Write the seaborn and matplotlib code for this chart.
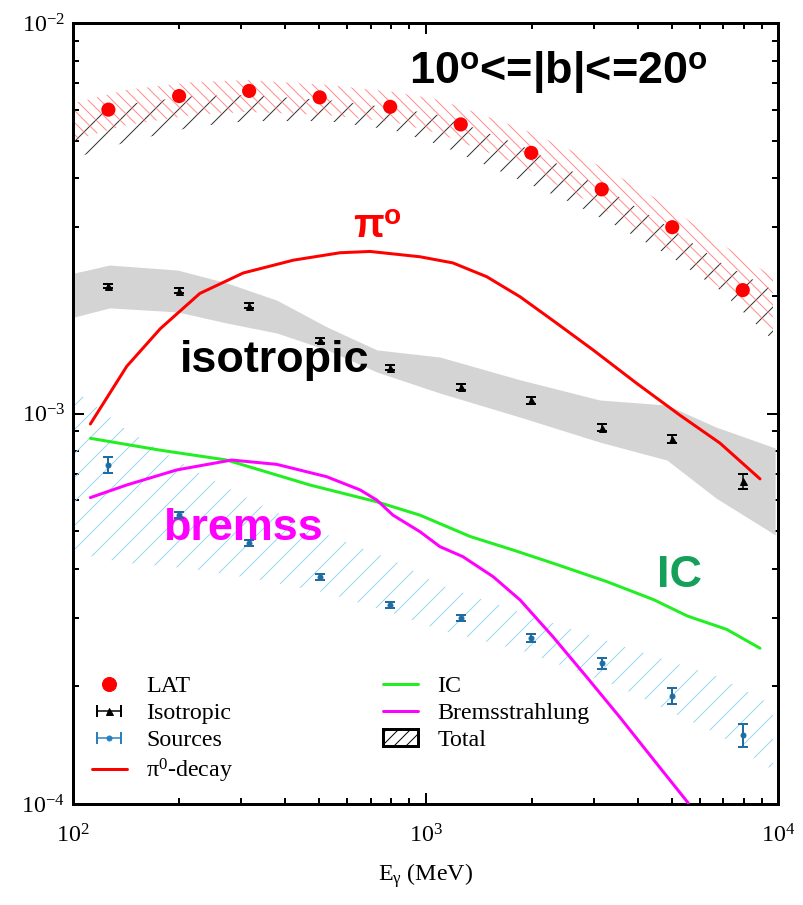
import numpy as np
import matplotlib
matplotlib.use("Agg")
import matplotlib.pyplot as plt
from matplotlib.lines import Line2D
from matplotlib.patches import Patch
import matplotlib.ticker as mticker
import seaborn as sns

# --- energies of the measured points (MeV)
energy_pts = [126, 200, 316, 501, 794, 1259, 1995, 3162, 5012, 7943]

# LAT data
lat_flux = [6.0e-3, 6.5e-3, 6.7e-3, 6.45e-3, 6.1e-3, 5.5e-3, 4.65e-3, 3.75e-3, 3.0e-3, 2.07e-3]

# isotropic component
iso_flux = [2.12e-3, 2.06e-3, 1.89e-3, 1.54e-3, 1.31e-3, 1.17e-3, 1.08e-3, 9.2e-4, 8.6e-4, 6.7e-4]
iso_err = [3e-5, 3e-5, 3e-5, 2.5e-5, 2e-5, 2e-5, 2e-5, 2e-5, 2e-5, 3e-5]

# sources
src_flux = [7.4e-4, 5.5e-4, 4.65e-4, 3.82e-4, 3.23e-4, 3.0e-4, 2.66e-4, 2.29e-4, 1.89e-4, 1.5e-4]
src_err = [3.5e-5, 1.0e-5, 8e-6, 7e-6, 6e-6, 5e-6, 6.5e-6, 7e-6, 9e-6, 1.0e-5]

# model curves
pi0_E = [112, 142, 177, 229, 304, 422, 572, 696, 964, 1196, 1492, 1855, 2300, 2987, 3971, 5270, 6842, 8892]
pi0_F = [9.4e-4, 1.32e-3, 1.65e-3, 2.03e-3, 2.29e-3, 2.47e-3, 2.58e-3, 2.60e-3, 2.52e-3, 2.43e-3,
         2.24e-3, 1.99e-3, 1.73e-3, 1.455e-3, 1.195e-3, 9.9e-4, 8.4e-4, 6.8e-4]

ic_E = [112, 176, 273, 470, 728, 965, 1341, 1773, 2311, 3272, 4443, 5532, 7154, 8892]
ic_F = [8.64e-4, 8.06e-4, 7.60e-4, 6.56e-4, 5.94e-4, 5.49e-4, 4.84e-4, 4.47e-4, 4.13e-4,
        3.71e-4, 3.335e-4, 3.03e-4, 2.80e-4, 2.505e-4]

brem_E = [112, 142, 197, 282, 378, 524, 653, 728, 809, 965, 1099, 1276, 1556, 1855, 2300, 2859, 3555, 4432, 5567]
brem_F = [6.09e-4, 6.56e-4, 7.17e-4, 7.60e-4, 7.41e-4, 6.89e-4, 6.37e-4, 6.00e-4, 5.49e-4, 4.98e-4,
          4.56e-4, 4.30e-4, 3.82e-4, 3.33e-4, 2.68e-4, 2.12e-4, 1.67e-4, 1.30e-4, 1.005e-4]

# bands
lat_band_E = [101, 142, 219, 312, 526, 809, 1099, 1854, 2570, 3563, 4938, 6846, 9679]
lat_band_hi = [6.24e-3, 6.74e-3, 7.06e-3, 7.14e-3, 6.94e-3, 6.66e-3, 6.35e-3, 5.38e-3, 4.73e-3, 4.03e-3, 3.38e-3, 2.73e-3, 2.24e-3]
lat_band_lo = [5.02e-3, 5.48e-3, 5.81e-3, 5.92e-3, 5.81e-3, 5.58e-3, 5.20e-3, 4.33e-3, 3.69e-3, 3.17e-3, 2.62e-3, 2.10e-3, 1.64e-3]
total_hi = [5.71e-3, 6.20e-3, 6.50e-3, 6.54e-3, 6.35e-3, 6.06e-3, 5.81e-3, 4.87e-3, 4.20e-3, 3.58e-3, 2.99e-3, 2.44e-3, 2.07e-3]
total_lo = [4.51e-3, 4.96e-3, 5.42e-3, 5.61e-3, 5.61e-3, 5.32e-3, 4.87e-3, 3.96e-3, 3.48e-3, 2.99e-3, 2.53e-3, 2.07e-3, 1.54e-3]

iso_band_E = [101, 127, 198, 273, 379, 526, 728, 1099, 1854, 3120, 4838, 6678, 9817]
iso_band_hi = [2.29e-3, 2.40e-3, 2.33e-3, 2.16e-3, 1.95e-3, 1.665e-3, 1.455e-3, 1.395e-3, 1.22e-3, 1.083e-3, 1.051e-3, 9.23e-4, 8.16e-4]
iso_band_lo = [1.767e-3, 1.864e-3, 1.82e-3, 1.705e-3, 1.607e-3, 1.455e-3, 1.277e-3, 1.128e-3, 9.79e-4, 8.45e-4, 7.60e-4, 6.07e-4, 4.89e-4]

src_band_E = [101, 142, 219, 339, 526, 809, 1099, 1854, 3563, 6846, 9679]
src_band_hi = [1.148e-3, 9.07e-4, 7.17e-4, 5.83e-4, 4.89e-4, 4.21e-4, 3.64e-4, 3.10e-4, 2.55e-4, 2.11e-4, 1.79e-4]
src_band_lo = [4.39e-4, 4.14e-4, 4.00e-4, 3.75e-4, 3.47e-4, 3.08e-4, 2.79e-4, 2.48e-4, 1.99e-4, 1.50e-4, 1.22e-4]

# style
sns.set_theme(style="ticks")
plt.rcParams.update({
    "font.family": ["Liberation Serif", "DejaVu Serif"],
    "mathtext.fontset": "custom",
    "mathtext.rm": "Liberation Serif",
    "mathtext.it": "Liberation Serif:italic",
    "mathtext.bf": "Liberation Sans:bold",
    "mathtext.sf": "Liberation Sans",
    "axes.unicode_minus": False,
    "hatch.linewidth": 1.0,
    "axes.linewidth": 3,
    "axes.edgecolor": "black",
    "xtick.color": "black",
    "ytick.color": "black",
    "text.color": "black",
    "axes.labelcolor": "black",
})

fig = plt.figure(figsize=(803 / 72, 905 / 72), dpi=72)
ax = fig.add_axes([73 / 803, 1 - 804 / 905, 705 / 803, 781 / 905])
ax.set_xscale("log")
ax.set_yscale("log")

# bands
ax.fill_between(iso_band_E, iso_band_lo, iso_band_hi, color="#d4d4d4", lw=0, zorder=1)
ax.fill_between(src_band_E, src_band_lo, src_band_hi, facecolor="none", edgecolor="#9dd5f2",
                hatch="/", lw=0, zorder=1)
ax.fill_between(lat_band_E, total_lo, total_hi, facecolor="none", edgecolor="#333333",
                hatch="/", lw=0, zorder=1)
ax.fill_between(lat_band_E, lat_band_lo, lat_band_hi, facecolor="none", edgecolor="#ff8c8c",
                hatch="\\\\", lw=0, zorder=1)

# model curves
sns.lineplot(x=pi0_E, y=pi0_F, ax=ax, color="#ff0000", lw=3, zorder=3)
sns.lineplot(x=ic_E, y=ic_F, ax=ax, color="#22ee22", lw=3, zorder=3)
sns.lineplot(x=brem_E, y=brem_F, ax=ax, color="#ff00ff", lw=3, zorder=3)

# points
ax.errorbar(energy_pts, iso_flux, yerr=iso_err, fmt="^", color="black", ms=7,
            capsize=5, elinewidth=1.5, capthick=2, zorder=4)
ax.errorbar(energy_pts, src_flux, yerr=src_err, fmt="o", color="#1f6ca3", ms=5,
            capsize=5, elinewidth=2, capthick=2, zorder=4)
sns.scatterplot(x=energy_pts, y=lat_flux, ax=ax, color="#ff0000", s=200,
                edgecolor="none", zorder=5)

ax.set_xlim(1e2, 1e4)
ax.set_ylim(1e-4, 1e-2)

ax.tick_params(which="both", direction="in", top=True, right=True, width=2, labelsize=24)
ax.tick_params(which="major", length=11)
ax.tick_params(which="minor", length=6)
ax.tick_params(axis="x", which="major", pad=20)
ax.tick_params(axis="y", which="major", pad=8)
ax.xaxis.set_minor_formatter(mticker.NullFormatter())
ax.yaxis.set_minor_formatter(mticker.NullFormatter())
ax.set_xlabel(r"E$_{\mathrm{\gamma}}$ (MeV)", fontsize=24, labelpad=14)

# annotations
bold = dict(family="Liberation Sans", fontweight="bold", fontsize=45)
ax.text(0.688, 0.923, r"10$^{\mathbf{o}}$<=|b|<=20$^{\mathbf{o}}$", transform=ax.transAxes,
        ha="center", va="baseline", color="black", **bold)
ax.text(0.2865, 0.553, "isotropic", transform=ax.transAxes, ha="center", va="baseline",
        color="black", **bold)
ax.text(0.241, 0.338, "bremss", transform=ax.transAxes, ha="center", va="baseline",
        color="#ff00ff", **bold)
ax.text(0.8596, 0.278, "IC", transform=ax.transAxes, ha="center", va="baseline",
        color="#15a05a", **bold)
ax.text(0.397, 0.7247, r"$\mathbf{\pi}^{\mathbf{o}}$", transform=ax.transAxes, ha="left",
        va="baseline", color="#ff0000", fontsize=40)

# legends
iso_h = ax.errorbar([np.nan], [np.nan], xerr=[np.nan], fmt="^", color="black",
                    ms=7, capsize=6, elinewidth=1.5, capthick=2)
src_h = ax.errorbar([np.nan], [np.nan], xerr=[np.nan], fmt="o", color="#2a7fbf",
                    ms=5, capsize=6, elinewidth=1.5, capthick=2)
lat_h = Line2D([], [], marker="o", color="#ff0000", ls="none", ms=14)
pi_h = Line2D([], [], color="#ff0000", lw=3)
ic_h = Line2D([], [], color="#22ee22", lw=3)
br_h = Line2D([], [], color="#ff00ff", lw=3)
tot_h = Patch(facecolor="white", edgecolor="black", hatch="//", lw=3)

leg_kw = dict(frameon=False, fontsize=24, loc="upper left", borderpad=0, borderaxespad=0,
              handlelength=1.45, handletextpad=0.8, labelspacing=0.22)
leg1 = ax.legend([lat_h, iso_h, src_h, pi_h],
                 ["LAT", "Isotropic", "Sources", r"$\mathrm{\pi}^0$-decay"],
                 bbox_to_anchor=(0.027, 0.165), **leg_kw)
ax.add_artist(leg1)
ax.legend([ic_h, br_h, tot_h], ["IC", "Bremsstrahlung", "Total"],
          bbox_to_anchor=(0.44, 0.165), **leg_kw)

fig.savefig("out.png", dpi=72)
